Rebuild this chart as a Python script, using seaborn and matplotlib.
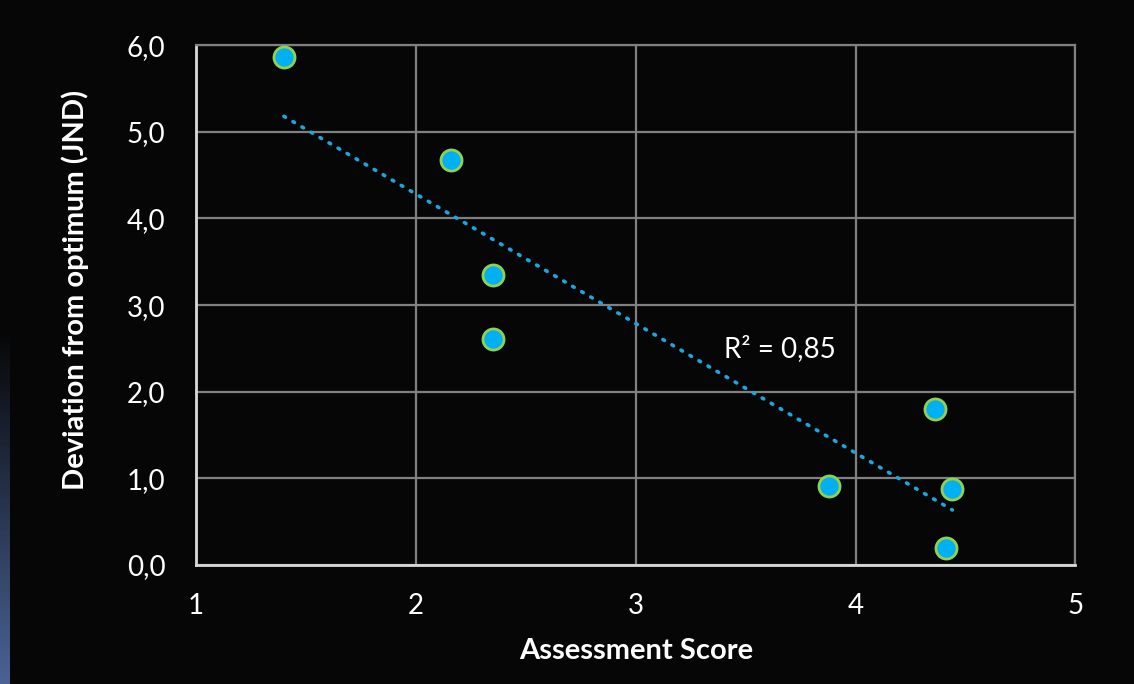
import numpy as np
import pandas as pd
import seaborn as sns
import matplotlib.pyplot as plt

# values
score = [1.40, 2.16, 2.35, 2.35, 3.88, 4.36, 4.44, 4.41]
deviation = [5.86, 4.67, 3.35, 2.61, 0.91, 1.80, 0.88, 0.20]
x_ticks = [1, 2, 3, 4, 5]
y_ticks = [0, 1, 2, 3, 4, 5, 6]
r2_label = "R² = 0,85"

df = pd.DataFrame({"score": score, "deviation": deviation})

sns.set_style("dark")
plt.rcParams['font.family'] = ['Lato', 'DejaVu Sans']

bg = "#060606"
fig = plt.figure(figsize=(11.34, 6.84), dpi=100, facecolor=bg)
ax = fig.add_axes([0.1728, 0.174, 0.7756, 0.760])
ax.set_facecolor(bg)

# thin blue gradient strip at the left edge of the slide
strip = fig.add_axes([0, 0, 0.008, 0.52])
strip.imshow(np.linspace(0, 1, 100).reshape(-1, 1), aspect="auto",
             cmap=sns.blend_palette([bg, "#4a6294"], as_cmap=True))
strip.axis("off")

# trend line (linear fit), dotted
sns.regplot(data=df, x="score", y="deviation", ax=ax, ci=None, scatter=False,
            line_kws=dict(color="#1aa7e0", lw=2.6, ls=(0, (0.5, 2.4)),
                          dash_capstyle="round"))
sns.scatterplot(data=df, x="score", y="deviation", ax=ax, s=230,
                color="#00b0f0", edgecolor="#92d050", linewidth=2, zorder=5)

ax.set_xlim(1, 5)
ax.set_ylim(0, 6)
ax.set_xticks(x_ticks)
ax.set_yticks(y_ticks)
ax.set_xticklabels([str(t) for t in x_ticks])
ax.set_yticklabels([f"{t:.1f}".replace(".", ",") for t in y_ticks])
ax.grid(True, color="#808080", lw=1.6)
ax.set_axisbelow(True)
for side in ["top", "right"]:
    ax.spines[side].set_color("#808080")
    ax.spines[side].set_linewidth(1.6)
for side in ["left", "bottom"]:
    ax.spines[side].set_color("#d9d9d9")
    ax.spines[side].set_linewidth(2)
ax.tick_params(colors="white", labelsize=20, length=0)
ax.tick_params(axis="x", pad=20)
ax.tick_params(axis="y", pad=22)

ax.set_xlabel("Assessment Score", color="white", fontsize=21,
              fontweight="bold", va="center")
ax.set_ylabel("Deviation from optimum (JND)", color="white", fontsize=21,
              fontweight="bold", va="center")
ax.xaxis.set_label_coords(0.5, -0.165)
ax.yaxis.set_label_coords(-0.1377, 0.53)

ax.text(3.40, 2.5, r2_label, color="white", fontsize=20, va="center")

fig.savefig("out.png", dpi=100, facecolor=bg)
